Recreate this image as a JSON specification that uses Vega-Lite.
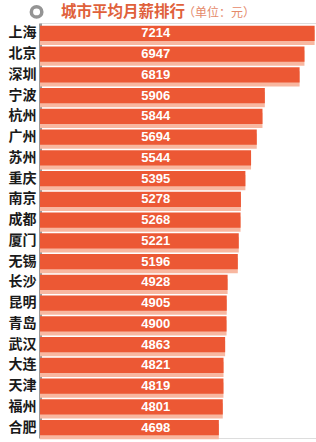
{
  "$schema": "https://vega.github.io/schema/vega-lite/v6.json",
  "autosize": "none",
  "width": 276,
  "height": 415,
  "padding": {"left": 40, "top": 23, "right": 0, "bottom": 4},
  "background": "white",
  "title": {
    "text": "城市平均月薪排行",
    "anchor": "start",
    "dx": 53,
    "dy": 24,
    "offset": 3,
    "font": "Noto Sans CJK SC",
    "fontSize": 15.5,
    "fontWeight": "bold",
    "color": "#E0613B"
  },
  "data": {
    "values": [
      {"city": "上海", "salary": 7214},
      {"city": "北京", "salary": 6947},
      {"city": "深圳", "salary": 6819},
      {"city": "宁波", "salary": 5906},
      {"city": "杭州", "salary": 5844},
      {"city": "广州", "salary": 5694},
      {"city": "苏州", "salary": 5544},
      {"city": "重庆", "salary": 5395},
      {"city": "南京", "salary": 5278},
      {"city": "成都", "salary": 5268},
      {"city": "厦门", "salary": 5221},
      {"city": "无锡", "salary": 5196},
      {"city": "长沙", "salary": 4928},
      {"city": "昆明", "salary": 4905},
      {"city": "青岛", "salary": 4900},
      {"city": "武汉", "salary": 4863},
      {"city": "大连", "salary": 4821},
      {"city": "天津", "salary": 4819},
      {"city": "福州", "salary": 4801},
      {"city": "合肥", "salary": 4698}
    ]
  },
  "encoding": {
    "y": {
      "field": "city",
      "type": "nominal",
      "sort": null,
      "scale": {"paddingInner": 0.277, "paddingOuter": 0.1385},
      "axis": {
        "title": null,
        "ticks": false,
        "labelFont": "Noto Sans CJK SC",
        "labelFontSize": 14,
        "labelFontWeight": "bold",
        "labelColor": "#1a1a1a",
        "labelPadding": 4,
        "domainColor": "#9a9a9a",
        "domainWidth": 3,
        "grid": false
      }
    }
  },
  "layer": [
    {
      "mark": {"type": "bar", "color": "#F8B7A0", "yOffset": 4},
      "encoding": {
        "x": {"field": "salary", "type": "quantitative", "scale": {"domain": [0, 7250], "nice": false}, "axis": null}
      }
    },
    {
      "mark": {"type": "bar", "color": "#EC5834"},
      "encoding": {
        "x": {"field": "salary", "type": "quantitative"}
      }
    },
    {
      "mark": {"type": "text", "color": "white", "font": "Liberation Sans", "fontSize": 13, "fontWeight": "bold", "align": "center", "baseline": "middle"},
      "encoding": {
        "x": {"datum": 3040},
        "text": {"field": "salary", "type": "quantitative", "format": "d"}
      }
    },
    {
      "transform": [{"filter": {"field": "city", "equal": "上海"}}],
      "mark": {"type": "point", "shape": "circle", "size": 110, "filled": false, "stroke": "#949494", "strokeWidth": 3.5, "fill": "white", "fillOpacity": 1, "yOffset": -21.5},
      "encoding": {
        "x": {"datum": -90}
      }
    },
    {
      "data": {"values": [{"unit": "（单位：元）"}]},
      "mark": {"type": "text", "align": "left", "baseline": "middle", "font": "Noto Sans CJK SC", "fontSize": 12, "fontWeight": "normal", "color": "#E58A6A", "yOffset": -20.5},
      "encoding": {
        "x": {"datum": 3756},
        "y": {"datum": "上海"},
        "text": {"field": "unit", "type": "nominal"}
      }
    }
  ]
}
